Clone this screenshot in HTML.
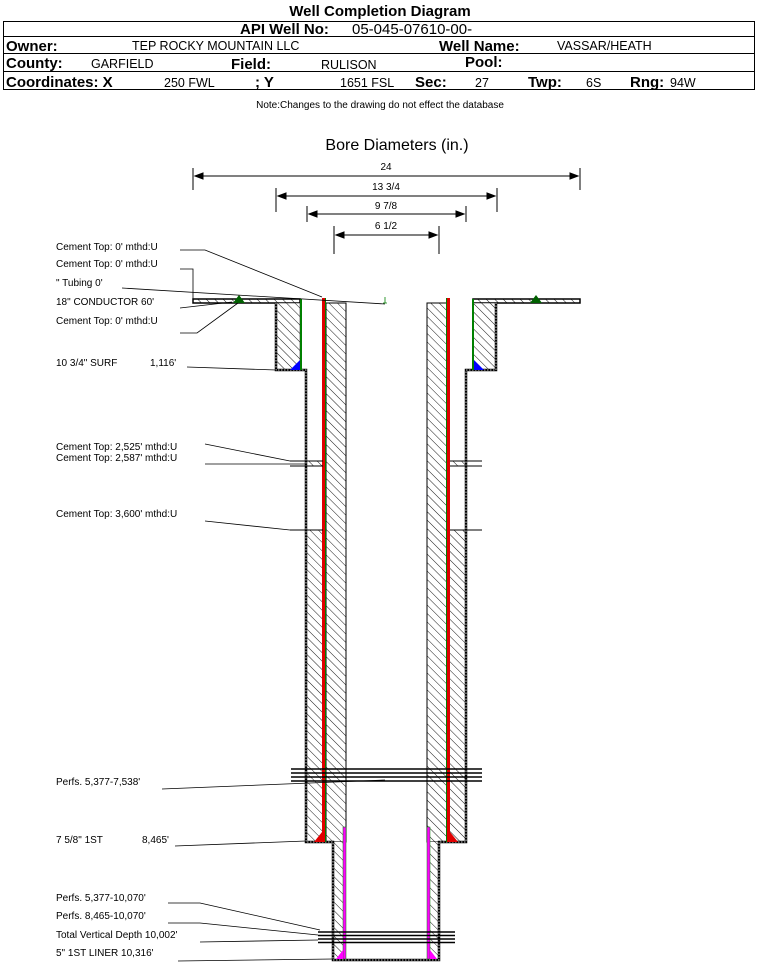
<!DOCTYPE html>
<html><head><meta charset="utf-8"><style>
body{margin:0;background:#fff;width:759px;height:962px;overflow:hidden}
svg{display:block}
text{font-family:"Liberation Sans",Arial,sans-serif}
</style></head><body>
<svg width="759" height="962" viewBox="0 0 759 962" xmlns="http://www.w3.org/2000/svg">
<defs>
<pattern id="h" width="6" height="6" patternUnits="userSpaceOnUse" patternTransform="rotate(-45)">
<rect width="6" height="6" fill="#fff"/><line x1="0" y1="0" x2="0" y2="6" stroke="#000" stroke-width="0.9"/>
</pattern>
</defs>
<!-- header -->
<text x="380" y="16" font-size="15" font-weight="bold" text-anchor="middle">Well Completion Diagram</text>
<rect x="3.5" y="21.5" width="751" height="68" fill="none" stroke="#000"/>
<line x1="3" y1="36.5" x2="755" y2="36.5" stroke="#000"/>
<line x1="3" y1="53.5" x2="755" y2="53.5" stroke="#000"/>
<line x1="3" y1="71.5" x2="755" y2="71.5" stroke="#000"/>
<text x="240" y="34" font-size="15" font-weight="bold">API Well No:</text>
<text x="352" y="34" font-size="15">05-045-07610-00-</text>
<g font-size="15" font-weight="bold">
<text x="6" y="51">Owner:</text><text x="439" y="51">Well Name:</text>
<text x="6" y="68">County:</text><text x="231" y="69">Field:</text><text x="465" y="67">Pool:</text>
<text x="6" y="87">Coordinates: X</text><text x="255" y="87">; Y</text><text x="415" y="87">Sec:</text><text x="528" y="87">Twp:</text><text x="630" y="87">Rng:</text>
</g>
<g font-size="12.5">
<text x="132" y="50">TEP ROCKY MOUNTAIN LLC</text><text x="557" y="50">VASSAR/HEATH</text>
<text x="91" y="68">GARFIELD</text><text x="321" y="69">RULISON</text>
<text x="164" y="87">250 FWL</text><text x="340" y="87">1651 FSL</text><text x="475" y="87">27</text><text x="586" y="87">6S</text><text x="670" y="87">94W</text>
</g>
<text x="380" y="108" font-size="10" text-anchor="middle">Note:Changes to the drawing do not effect the database</text>
<text x="397" y="150" font-size="16" text-anchor="middle">Bore Diameters (in.)</text>
<!-- dimension lines -->
<g stroke="#000" stroke-width="1" fill="#000" font-size="10">
<line x1="193" y1="168" x2="193" y2="190"/><line x1="580" y1="168" x2="580" y2="190"/>
<line x1="195" y1="176" x2="578" y2="176"/>
<path d="M195 176l8-3v6z M578 176l-8-3v6z"/>
<line x1="276" y1="188" x2="276" y2="212"/><line x1="497" y1="188" x2="497" y2="212"/>
<line x1="278" y1="196" x2="495" y2="196"/>
<path d="M278 196l8-3v6z M495 196l-8-3v6z"/>
<line x1="307" y1="206" x2="307" y2="222"/><line x1="466" y1="206" x2="466" y2="222"/>
<line x1="309" y1="214" x2="464" y2="214"/>
<path d="M309 214l8-3v6z M464 214l-8-3v6z"/>
<line x1="334" y1="226" x2="334" y2="254"/><line x1="439" y1="226" x2="439" y2="254"/>
<line x1="336" y1="235" x2="437" y2="235"/>
<path d="M336 235l8-3v6z M437 235l-8-3v6z"/>
</g>
<g font-size="10" text-anchor="middle">
<text x="386" y="170">24</text><text x="386" y="190">13 3/4</text><text x="386" y="209">9 7/8</text><text x="386" y="229">6 1/2</text>
</g>
<!-- well body -->
<g stroke="#000">
<rect x="193" y="299" width="107" height="4" fill="url(#h)" stroke-width="1.5"/>
<rect x="473" y="299" width="107" height="4" fill="url(#h)" stroke-width="1.5"/>
<rect x="276" y="303" width="24" height="67" fill="url(#h)" stroke-width="0.5"/>
<rect x="473" y="303" width="23" height="67" fill="url(#h)" stroke-width="0.5"/>
<rect x="326" y="303" width="20" height="539" fill="url(#h)" stroke-width="1"/>
<rect x="427" y="303" width="20" height="539" fill="url(#h)" stroke-width="1"/>
<rect x="307" y="530" width="16" height="312" fill="url(#h)" stroke="none"/>
<rect x="450" y="530" width="16" height="312" fill="url(#h)" stroke="none"/>
<rect x="307" y="461" width="16" height="5" fill="url(#h)" stroke="none"/>
<rect x="450" y="461" width="16" height="5" fill="url(#h)" stroke="none"/>
<rect x="334" y="842" width="9" height="117" fill="url(#h)" stroke="none"/>
<rect x="430" y="842" width="9" height="117" fill="url(#h)" stroke="none"/>
<path d="M276 303 V370 H306 V842 H333 V960 H439 V842 H466 V370 H496 V303" fill="none" stroke-width="2.5"/>
<path d="M276 303 V370 H306 V842 H333 V960 H439 V842 H466 V370 H496 V303" fill="none" stroke="#fff" stroke-width="0.8" stroke-dasharray="1.5 1.5"/>
</g>
<!-- casings -->
<rect x="300" y="299" width="2" height="71" fill="#008000"/>
<rect x="472" y="299" width="2" height="71" fill="#008000"/>
<path d="M290 370 L300 360 V370Z" fill="#0000ff"/>
<path d="M474 360 L484 370 H474Z" fill="#0000ff"/>
<rect x="322" y="298" width="3" height="544" fill="#e00000"/>
<rect x="325" y="298" width="1" height="544" fill="#008000"/>
<rect x="447" y="298" width="3" height="544" fill="#e00000"/>
<rect x="446" y="298" width="1" height="544" fill="#008000"/>
<path d="M314 842 L322 832 V842Z" fill="#e00000"/>
<path d="M450 832 L458 842 H450Z" fill="#e00000"/>
<rect x="343" y="827" width="3" height="132" fill="#ff00ff" stroke="#008000" stroke-width="0.5"/>
<rect x="427" y="827" width="3" height="132" fill="#ff00ff" stroke="#008000" stroke-width="0.5"/>
<path d="M336 959 L343 950 V959Z" fill="#ff00ff"/>
<path d="M430 950 L437 959 H430Z" fill="#ff00ff"/>
<path d="M233 303 l6-8 l6 8z" fill="#006000"/>
<path d="M530 303 l6-8 l6 8z" fill="#006000"/>
<g stroke="#000" stroke-width="1">
<line x1="290" y1="461" x2="323" y2="461"/><line x1="290" y1="466" x2="323" y2="466"/>
<line x1="450" y1="461" x2="482" y2="461"/><line x1="450" y1="466" x2="482" y2="466"/>
<line x1="290" y1="530" x2="323" y2="530"/><line x1="450" y1="530" x2="482" y2="530"/>
<line x1="262" y1="299" x2="300" y2="299" stroke-width="0.5"/>
</g>
<g stroke="#000" stroke-width="1.5">
<line x1="291" y1="769" x2="482" y2="769"/><line x1="291" y1="773" x2="482" y2="773"/>
<line x1="291" y1="777" x2="482" y2="777"/><line x1="291" y1="781" x2="482" y2="781"/>
<line x1="318" y1="932" x2="455" y2="932"/><line x1="318" y1="935.5" x2="455" y2="935.5"/>
<line x1="318" y1="939" x2="455" y2="939"/><line x1="318" y1="942.5" x2="455" y2="942.5"/>
</g>
<g font-size="10">
<text x="56" y="250">Cement Top: 0' mthd:U</text>
<text x="56" y="267">Cement Top: 0' mthd:U</text>
<text x="56" y="286">" Tubing 0'</text>
<text x="56" y="305">18" CONDUCTOR  60'</text>
<text x="56" y="324">Cement Top: 0' mthd:U</text>
<text x="56" y="366">10 3/4" SURF</text><text x="150" y="366">1,116'</text>
<text x="56" y="450">Cement Top: 2,525' mthd:U</text>
<text x="56" y="461">Cement Top: 2,587' mthd:U</text>
<text x="56" y="517">Cement Top: 3,600' mthd:U</text>
<text x="56" y="785">Perfs. 5,377-7,538'</text>
<text x="56" y="843">7 5/8" 1ST</text><text x="142" y="843">8,465'</text>
<text x="56" y="901">Perfs. 5,377-10,070'</text>
<text x="56" y="919">Perfs. 8,465-10,070'</text>
<text x="56" y="938">Total Vertical Depth 10,002'</text>
<text x="56" y="956">5" 1ST LINER  10,316'</text>
</g>
<g stroke="#000" stroke-width="0.8" fill="none">
<path d="M180 250 H205 L322 297"/>
<path d="M180 269 H193 V301"/>
<path d="M122 288 L385 304"/>
<path d="M385 297 V303 M383 303 H387" stroke="#008000"/>
<path d="M180 308 L232 302"/>
<path d="M180 333 H197 L238 303"/>
<path d="M187 367 L276 370"/>
<path d="M205 444 L290 461"/>
<path d="M205 464 L306 464"/>
<path d="M205 521 L290 530"/>
<path d="M162 789 L385 780"/>
<path d="M175 846 L306 841"/>
<path d="M168 903 H200 L320 930"/>
<path d="M168 923 H200 L318 935"/>
<path d="M200 942 L318 940"/>
<path d="M178 961 L333 959"/>
</g>
</svg>
</body></html>
